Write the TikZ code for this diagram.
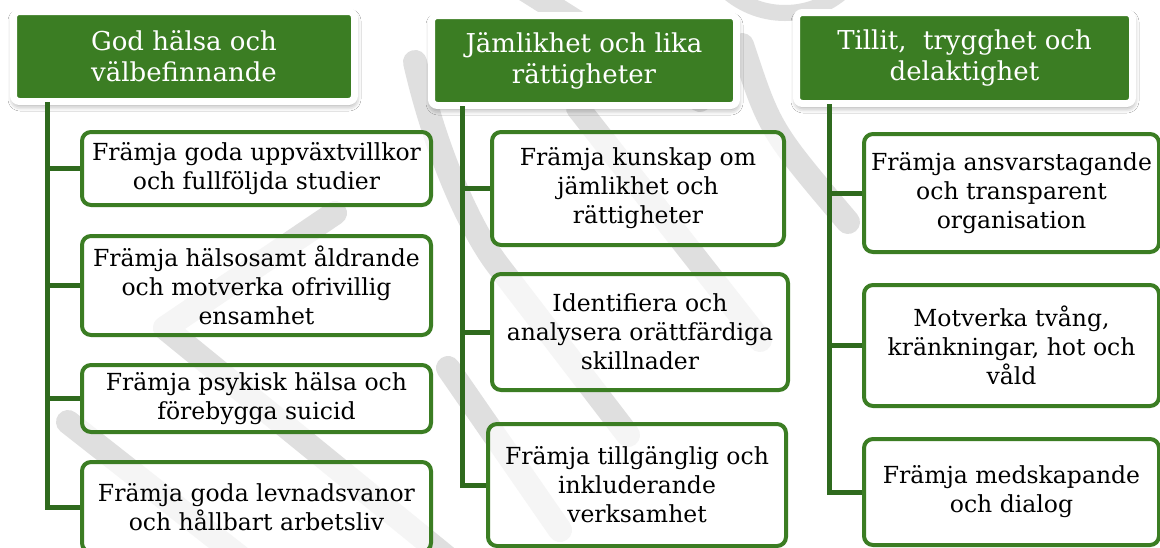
\documentclass[tikz,border=0pt]{standalone}
\usepackage{fontspec}
\setmainfont{DejaVu Serif}
\usetikzlibrary{shadows.blur}
\definecolor{hgreen}{HTML}{3B7D23}
\definecolor{lgreen}{HTML}{2F6A1E}
\definecolor{wm}{HTML}{DFDFDF}
\begin{document}
\begin{tikzpicture}[x=1pt,y=-1pt,
  hdr/.style={draw=white, line width=7pt, fill=hgreen, rounded corners=6pt,
    text=white, font=\fontsize{26}{31}\selectfont, align=center, inner sep=0pt,
    blur shadow={shadow xshift=0.5pt, shadow yshift=-3.5pt, shadow blur radius=6pt, shadow opacity=45}},
  box/.style={draw=hgreen, line width=4pt, fill=white, fill opacity=0.7, text opacity=1,
    rounded corners=9pt, font=\fontsize{23.5}{29}\selectfont, align=center, inner sep=0pt},
  conn/.style={draw=lgreen, line width=5pt},
  wmark/.style={draw=wm, line width=24pt, line cap=round, line join=round}]
\useasboundingbox (0,0) rectangle (1160,547);
\fill[white] (0,0) rectangle (1160,547);
% watermark
\draw[wmark] (335,213) -- (165,328) -- (450,560);
\draw[wmark] (68,422) -- (250,565);
\draw[wmark] (415,62) .. controls (435,150) and (470,230) .. (500,268) -- (628,435);
\draw[wmark] (448,368) -- (560,530);
\draw[wmark] (578,108) -- (760,340);
\draw[wmark] (742,45) .. controls (770,130) .. (848,222);
\draw[wmark] (510,-20) -- (700,100);
\draw[wm, line width=16pt] (785,-75) circle[radius=88];
% headers
\node[hdr, minimum width=341pt, minimum height=90pt] (h1) at (184,56.5) {God hälsa och\\välbefinnande};
\node[hdr, minimum width=305pt, minimum height=90pt] (h2) at (584,60.5) {Jämlikhet och lika\\rättigheter};
\node[hdr, minimum width=336pt, minimum height=91pt] (h3) at (964.5,58) {Tillit,~ trygghet och\\delaktighet};
% column 1
\node[box, minimum width=349pt, minimum height=73pt] (b11) at (256.5,168.5) {Främja goda uppväxtvillkor\\och fullföljda studier};
\node[box, minimum width=349pt, minimum height=99pt] (b12) at (256.5,285.5) {Främja hälsosamt åldrande\\och motverka ofrivillig\\ensamhet};
\node[box, minimum width=349pt, minimum height=67pt] (b13) at (256.5,398.5) {Främja psykisk hälsa och\\förebygga suicid};
\node[box, minimum width=349pt, minimum height=90pt] (b14) at (256.5,507) {Främja goda levnadsvanor\\och hållbart arbetsliv};
% column 2
\node[box, minimum width=292pt, minimum height=113pt] (b21) at (638,188.5) {Främja kunskap om\\jämlikhet och\\rättigheter};
\node[box, minimum width=296pt, minimum height=116pt] (b22) at (640,332) {Identifiera och\\analysera orättfärdiga\\skillnader};
\node[box, minimum width=298pt, minimum height=122pt] (b23) at (637,485) {Främja tillgänglig och\\inkluderande\\verksamhet};
% column 3
\node[box, minimum width=295pt, minimum height=118pt] (b31) at (1011.5,193) {Främja ansvarstagande\\och transparent\\organisation};
\node[box, minimum width=295pt, minimum height=121pt] (b32) at (1011.5,345.5) {Motverka tvång,\\kränkningar, hot och\\våld};
\node[box, minimum width=295pt, minimum height=106pt] (b33) at (1011.5,492) {Främja medskapande\\och dialog};
% connectors
\coordinate (t1) at (47.5,102);
\coordinate (t2) at (462,106);
\coordinate (t3) at (829,104);
\draw[conn] (t1) |- (b14.west);
\draw[conn] (t1 |- b11.west) -- (b11.west);
\draw[conn] (t1 |- b12.west) -- (b12.west);
\draw[conn] (t1 |- b13.west) -- (b13.west);
\draw[conn] (t2) |- (b23.west);
\draw[conn] (t2 |- b21.west) -- (b21.west);
\draw[conn] (t2 |- b22.west) -- (b22.west);
\draw[conn] (t3) |- (b33.west);
\draw[conn] (t3 |- b31.west) -- (b31.west);
\draw[conn] (t3 |- b32.west) -- (b32.west);
\end{tikzpicture}
\end{document}
